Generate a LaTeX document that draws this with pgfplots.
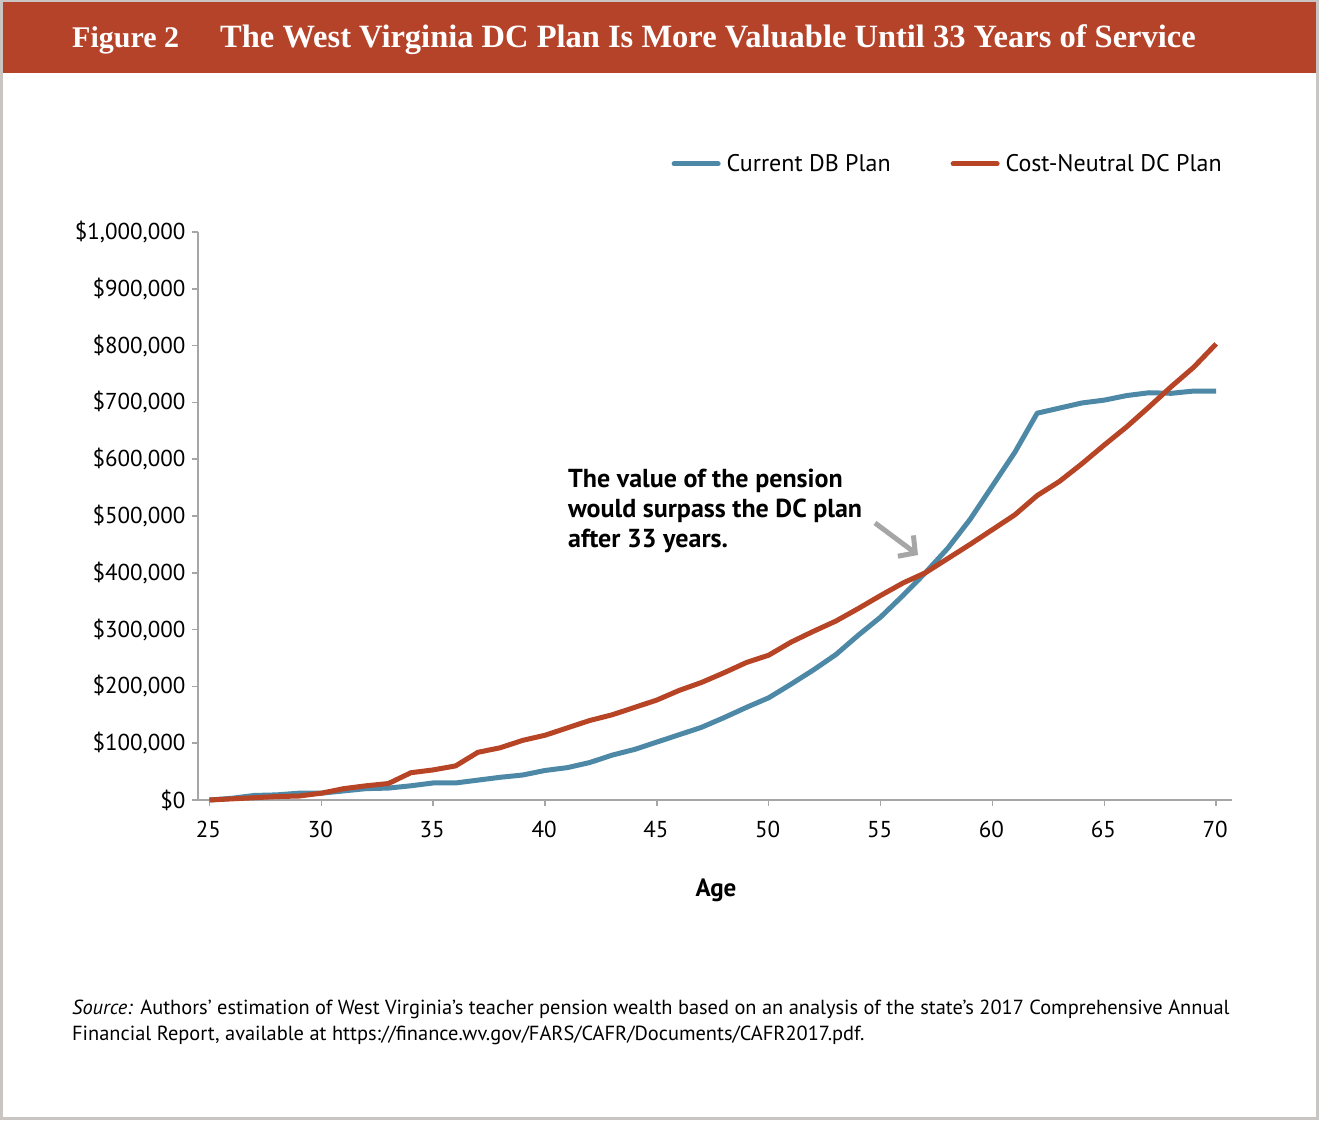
\documentclass[border=0pt]{standalone}
\usepackage{fontspec}
\setmainfont{PT Sans}
\newfontfamily\headfont{Liberation Serif}
\usepackage{pgfplots}
\usepackage{pgfplotstable}
\pgfplotsset{compat=1.18}
\usetikzlibrary{arrows.meta}

\definecolor{hdr}{HTML}{B5432A}
\definecolor{dbblue}{HTML}{4D89A6}
\definecolor{dcred}{HTML}{B84426}
\definecolor{axgray}{HTML}{A6A6A6}
\definecolor{framegray}{HTML}{C9C5C2}

% pension wealth by age (dollars)
\pgfplotstableread{
age db dc
25 0 0
26 3000 2000
27 8000 4000
28 9000 6000
29 12000 7000
30 12000 12000
31 16000 20000
32 20000 25000
33 21000 29000
34 25000 48000
35 30000 53000
36 30000 60000
37 35000 84000
38 40000 92000
39 44000 105000
40 52000 114000
41 57000 127000
42 66000 140000
43 79000 150000
44 89000 163000
45 102000 176000
46 115000 193000
47 128000 207000
48 145000 224000
49 163000 242000
50 180000 255000
51 204000 278000
52 229000 297000
53 256000 315000
54 290000 337000
55 322000 360000
56 360000 382000
57 400000 400000
58 443000 425000
59 494000 450000
60 553000 476000
61 612000 502000
62 681000 536000
63 690000 561000
64 699000 592000
65 704000 625000
66 712000 657000
67 717000 692000
68 716000 728000
69 720000 762000
70 720000 803000
}\wvdata

\begin{document}
\begin{tikzpicture}[x=1pt,y=1pt]
\useasboundingbox (0,0) rectangle (1319,1120);
\fill[white] (0,0) rectangle (1319,1120);
\draw[framegray, line width=3pt] (1.5,1.5) rectangle (1317.5,1118.5);
\fill[hdr] (3,1047) rectangle (1316,1118);
\node[anchor=base west, inner sep=0, text=white, font=\headfont\bfseries\fontsize{30}{34}\selectfont] at (72,1072) {Figure 2};
\node[anchor=base west, inner sep=0, text=white, font=\headfont\bfseries\fontsize{32.5}{36}\selectfont] at (220,1072) {The West Virginia DC Plan Is More Valuable Until 33 Years of Service};

\begin{axis}[
    at={(198pt,320pt)}, anchor=south west,
    scale only axis, width=1034pt, height=568pt,
    xmin=24.486, xmax=70.71, ymin=0, ymax=1000000,
    scaled y ticks=false,
    axis lines*=left,
    axis line style={axgray, line width=2pt},
    tick style={axgray, line width=1.5pt},
    tick align=outside, major tick length=6pt,
    xtick={25,30,...,70},
    xticklabels={25,30,35,40,45,50,55,60,65,70},
    ytick={0,100000,200000,300000,400000,500000,600000,700000,800000,900000,1000000},
    yticklabels={{\$0},{\$100,000},{\$200,000},{\$300,000},{\$400,000},{\$500,000},{\$600,000},{\$700,000},{\$800,000},{\$900,000},{\$1,000,000}},
    ticklabel style={font=\fontsize{23}{27}\selectfont, black},
    xticklabel style={yshift=-12pt, xshift=-1pt},
    yticklabel style={xshift=-3pt},
    legend columns=2,
    legend style={draw=none, fill=none, at={(0.995,1.12)}, anchor=east,
        font=\fontsize{24}{28}\selectfont,
        /tikz/every odd column/.append style={column sep=0pt},
        /tikz/every even column/.append style={column sep=58pt}},
    legend image code/.code={\draw[#1, line cap=round] (0pt,0pt) -- (44pt,0pt); \path (48pt,0pt);},
    clip=false,
]
\addplot[dbblue, line width=5pt, line join=round] table[x=age, y=db] {\wvdata};
\addlegendentry{Current DB Plan}
\addplot[dcred, line width=5pt, line join=round] table[x=age, y=dc] {\wvdata};
\addlegendentry{Cost-Neutral DC Plan}
\end{axis}

\begin{scope}[every node/.style={anchor=base west, inner sep=0, font=\bfseries\fontsize{26}{30}\selectfont}]
\node at (568,632) {The value of the pension};
\node at (568,602) {would surpass the DC plan};
\node at (568,572) {after 33 years.};
\end{scope}
\draw[axgray, line width=5pt, -{Straight Barb[length=12pt, width=26pt, line width=5pt]}] (875,597) -- (918,565);

\node[font=\bfseries\fontsize{25}{29}\selectfont, inner sep=0] at (716,230) {Age};

\begin{scope}[every node/.style={anchor=base west, inner sep=0, font=\fontsize{20.4}{24}\selectfont}]
\node at (72,106) {\textit{Source:} Authors’ estimation of West Virginia’s teacher pension wealth based on an analysis of the state’s 2017 Comprehensive Annual};
\node at (72,80) {Financial Report, available at https://finance.wv.gov/FARS/CAFR/Documents/CAFR2017.pdf.};
\end{scope}
\end{tikzpicture}
\end{document}
